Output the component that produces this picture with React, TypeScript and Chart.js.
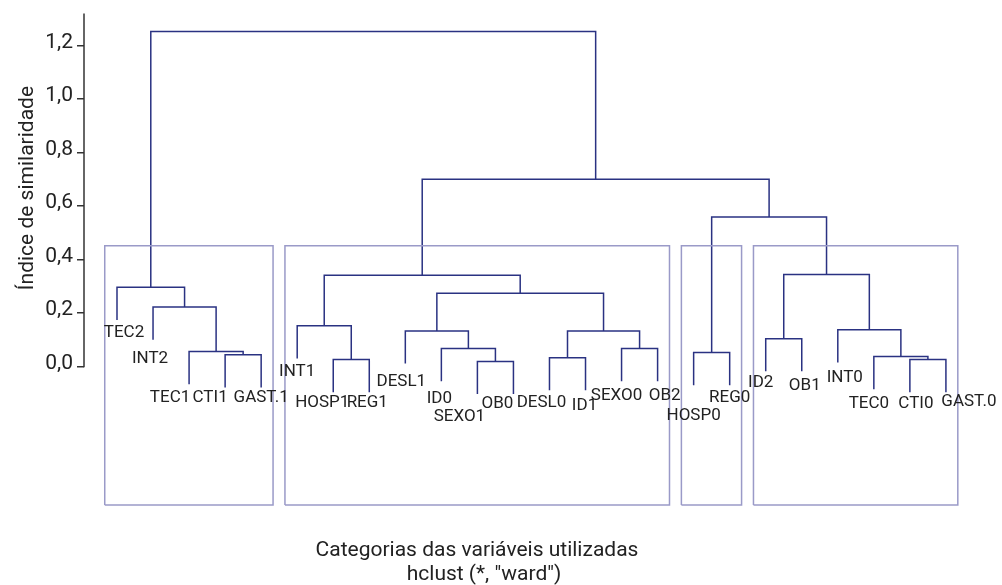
import React, { useEffect, useRef } from "react";
import { Chart, registerables } from "chart.js";

Chart.register(...registerables);

// Leaves in dendrogram order (1-based index = position on x)
const LEAVES = [
  "TEC2", "INT2", "TEC1", "CTI1", "GAST.1", "INT1", "HOSP1", "REG1",
  "DESL1", "ID0", "SEXO1", "OB0", "DESL0", "ID1", "SEXO0", "OB2",
  "HOSP0", "REG0", "ID2", "OB1", "INT0", "TEC0", "CTI0", "GAST.0",
];

// hclust-style merge table: negative = leaf (1-based), positive = merge number (1-based)
const MERGE_LEFT = [-11, -7, -23, -13, -22, -4, -17, -3, -10, -15, -19, -9, 4, -21, -6, -2, 12, -1, 15, 11, 7, 19, 18];
const MERGE_RIGHT = [-12, -8, -24, -14, 3, -5, -18, 6, 1, -16, -20, 9, 10, 5, 2, 8, 13, 16, 17, 14, 20, 21, 22];
const MERGE_HEIGHT = [0.019, 0.026, 0.026, 0.033, 0.037, 0.044, 0.052, 0.056, 0.067, 0.067, 0.104, 0.133, 0.133, 0.137, 0.152, 0.222, 0.274, 0.296, 0.341, 0.344, 0.559, 0.7, 1.252];

const HANG = 0.122;
const K_CLUSTERS = 4;
const CLUSTER_SIZES = [5, 11, 2, 6];

const Y_TICKS = [0, 0.2, 0.4, 0.6, 0.8, 1.0, 1.2];
const Y_MIN = -0.5174;
const Y_MAX = 1.311;
const AXIS_TOP = 1.3186;

const Y_TITLE = "Índice de similaridade";
const X_TITLE = "Categorias das variáveis utilizadas";
const X_SUBTITLE = 'hclust (*, "ward")';

// label nudges (layout only): [dx px, dy px]
const LABEL_NUDGE: Record<string, [number, number]> = {
  "TEC2": [7, 0], "INT2": [-3, 6], "TEC1": [-19, 1], "CTI1": [-15, -3], "GAST.1": [0, -3],
  "INT1": [0, 0], "HOSP1": [-11, -2], "REG1": [-2, -2], "DESL1": [-4, 5], "ID0": [-2, 5],
  "SEXO1": [-18, 10], "OB0": [-16, -3], "DESL0": [-8, -1], "ID1": [-1, 2], "SEXO0": [-5, 2],
  "OB2": [7, 2], "HOSP0": [0, 18], "REG0": [0, 0], "ID2": [-5, -2], "OB1": [3, 1],
  "INT0": [7, 2], "TEC0": [-5, 1], "CTI0": [6, -1], "GAST.0": [23, -3],
};

const FONT = "Roboto, 'DejaVu Sans', sans-serif";
const LINE_COLOR = "#2a3282";
const BOX_COLOR = "#9a9ac8";
const TEXT_COLOR = "#222222";

function buildTree() {
  const n = MERGE_HEIGHT.length;
  const mx: number[] = new Array(n).fill(0);
  const leafEnd: number[] = new Array(LEAVES.length).fill(0);
  const segs: { x: number; y: number }[][] = [];
  const childX = (c: number) => (c < 0 ? -c : mx[c - 1]);
  for (let i = 0; i < n; i++) {
    const l = MERGE_LEFT[i];
    const r = MERGE_RIGHT[i];
    const h = MERGE_HEIGHT[i];
    const xl = childX(l);
    const xr = childX(r);
    mx[i] = (xl + xr) / 2;
    const yl = l < 0 ? h - HANG : MERGE_HEIGHT[l - 1];
    const yr = r < 0 ? h - HANG : MERGE_HEIGHT[r - 1];
    if (l < 0) leafEnd[-l - 1] = h - HANG;
    if (r < 0) leafEnd[-r - 1] = h - HANG;
    segs.push([
      { x: xl, y: yl },
      { x: xl, y: h },
      { x: xr, y: h },
      { x: xr, y: yr },
    ]);
  }
  return { segs, leafEnd };
}

function buildBoxes() {
  const sorted = [...MERGE_HEIGHT].sort((a, b) => b - a);
  const top = (sorted[K_CLUSTERS - 2] + sorted[K_CLUSTERS - 1]) / 2;
  const boxes: { x: number; y: number }[][] = [];
  let m = 0;
  for (const s of CLUSTER_SIZES) {
    const x0 = m + 0.66;
    const x1 = m + s + 0.33;
    boxes.push([
      { x: x0, y: Y_MIN },
      { x: x0, y: top },
      { x: x1, y: top },
      { x: x1, y: Y_MIN },
      { x: x0, y: Y_MIN },
    ]);
    m += s;
  }
  return boxes;
}

export default function App() {
  const ref = useRef<HTMLCanvasElement | null>(null);

  useEffect(() => {
    if (!ref.current) return;
    const { segs, leafEnd } = buildTree();
    const boxes = buildBoxes();

    const datasets: any[] = [];
    boxes.forEach((b) =>
      datasets.push({
        data: b,
        borderColor: BOX_COLOR,
        borderWidth: 1.5,
        pointRadius: 0,
        tension: 0,
        fill: false,
        clip: false,
      })
    );
    segs.forEach((s) =>
      datasets.push({
        data: s,
        borderColor: LINE_COLOR,
        borderWidth: 1.5,
        pointRadius: 0,
        tension: 0,
        fill: false,
        clip: false,
      })
    );

    const textPlugin = {
      id: "dendroText",
      afterDraw(chart: any) {
        const ctx = chart.ctx;
        const xs = chart.scales.x;
        const ys = chart.scales.y;
        ctx.save();
        // y axis line from 0 to top
        ctx.strokeStyle = "#333333";
        ctx.lineWidth = 1.5;
        ctx.beginPath();
        const ax = chart.chartArea.left;
        ctx.moveTo(ax, ys.getPixelForValue(0) + 0.75);
        ctx.lineTo(ax, ys.getPixelForValue(AXIS_TOP));
        ctx.stroke();

        // leaf labels
        ctx.fillStyle = TEXT_COLOR;
        ctx.font = `17px ${FONT}`;
        ctx.textAlign = "center";
        ctx.textBaseline = "middle";
        LEAVES.forEach((name, i) => {
          const nd = LABEL_NUDGE[name] || [0, 0];
          const px = xs.getPixelForValue(i + 1) + nd[0];
          const py = ys.getPixelForValue(leafEnd[i]) + 13 + nd[1];
          ctx.fillText(name, px, py);
        });

        // y title
        ctx.font = `21px ${FONT}`;
        ctx.save();
        const cy = (ys.getPixelForValue(0) + ys.getPixelForValue(AXIS_TOP)) / 2 - 2;
        ctx.translate(33, cy);
        ctx.rotate(-Math.PI / 2);
        ctx.textAlign = "center";
        ctx.textBaseline = "alphabetic";
        ctx.fillText(Y_TITLE, 0, 0);
        ctx.restore();

        // x titles
        ctx.textAlign = "center";
        ctx.textBaseline = "alphabetic";
        ctx.font = `21px ${FONT}`;
        ctx.fillText(X_TITLE, 477, 556);
        ctx.fillText(X_SUBTITLE, 484, 580);
        ctx.restore();
      },
    };

    const chart = new Chart(ref.current, {
      type: "line",
      data: { datasets },
      options: {
        responsive: false,
        animation: false,
        devicePixelRatio: 1,
        parsing: true,
        layout: { padding: { top: 13, bottom: 80, left: 0, right: 0 } },
        plugins: {
          legend: { display: false },
          tooltip: { enabled: false },
          title: { display: false },
        },
        scales: {
          x: {
            type: "linear",
            display: false,
            min: 0.0844,
            max: 25.556,
          },
          y: {
            type: "linear",
            min: Y_MIN,
            max: Y_MAX - 0.0037,
            afterFit: (scale: any) => {
              scale.width = 84;
            },
            afterBuildTicks: (scale: any) => {
              scale.ticks = Y_TICKS.map((v) => ({ value: v }));
            },
            border: { display: false },
            grid: {
              drawOnChartArea: false,
              drawTicks: true,
              tickLength: 7,
              color: "#333333",
              lineWidth: 1.5,
            },
            ticks: {
              padding: 4,
              labelOffset: -3,
              color: TEXT_COLOR,
              font: { family: FONT, size: 21 },
              callback: (v: any) => Number(v).toFixed(1).replace(".", ","),
            },
          },
        },
      },
      plugins: [textPlugin],
    });
    return () => chart.destroy();
  }, []);

  return (
    <div style={{ position: "absolute", left: 0, top: 0, width: 1002, height: 585 }}>
      <canvas ref={ref} width={1002} height={585} style={{ display: "block" }} />
    </div>
  );
}
